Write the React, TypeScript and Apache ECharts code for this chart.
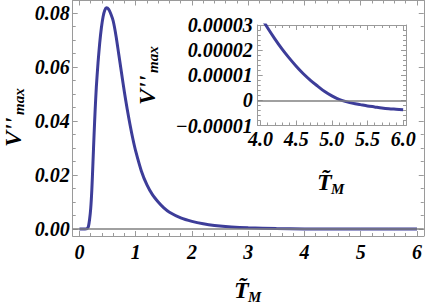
import React, { useEffect, useRef } from "react";
import * as echarts from "echarts";

// ---- data ----
const mainX = [0, 0.1, 0.12, 0.14, 0.16, 0.18, 0.2, 0.22, 0.24, 0.26, 0.28, 0.3, 0.33, 0.36, 0.39, 0.42, 0.45, 0.48, 0.52, 0.56, 0.6, 0.65, 0.7, 0.75, 0.8, 0.85, 0.9, 0.95, 1.0, 1.1, 1.2, 1.3, 1.4, 1.5, 1.6, 1.8, 2.0, 2.2, 2.4, 2.7, 3.0, 3.5, 4.0, 4.5, 5.0, 5.5, 6.0];
const mainY = [0, 0, 0.00003, 0.0002, 0.001, 0.0035, 0.0075, 0.0145, 0.0245, 0.035, 0.0445, 0.0525, 0.0615, 0.0688, 0.0745, 0.0786, 0.081, 0.0819, 0.0813, 0.0795, 0.077, 0.0715, 0.0645, 0.0575, 0.0505, 0.0442, 0.0385, 0.0333, 0.0288, 0.0215, 0.0163, 0.0126, 0.01, 0.0078, 0.0062, 0.0041, 0.0028, 0.0019, 0.0013, 0.00075, 0.00043, 0.00016, 0.0000335, 0.0000136, 0.0000018, -0.0000022, -0.0000037];

const insetX = [4.0, 4.1, 4.2, 4.3, 4.4, 4.5, 4.6, 4.7, 4.8, 4.9, 5.0, 5.1, 5.2, 5.3, 5.4, 5.5, 5.6, 5.7, 5.8, 5.9, 6.0];
const insetY = [0.0000335, 0.0000288, 0.0000245, 0.0000205, 0.0000169, 0.0000136, 0.0000106, 0.000008, 0.0000057, 0.0000035, 0.0000018, 0.0000004, -0.0000005, -0.0000012, -0.0000017, -0.0000022, -0.0000026, -0.000003, -0.0000033, -0.0000035, -0.0000037];

const mainXTicks = [0, 1, 2, 3, 4, 5, 6];
const mainXLabels = ["0", "1", "2", "3", "4", "5", "6"];
const mainYTicks = [0, 0.02, 0.04, 0.06, 0.08];
const mainYLabels = ["0.00", "0.02", "0.04", "0.06", "0.08"];
const insetXTicks = [4, 4.5, 5, 5.5, 6];
const insetXLabels = ["4.0", "4.5", "5.0", "5.5", "6.0"];
const insetYTicks = [-0.00001, 0, 0.00001, 0.00002, 0.00003];
const insetYLabels = ["\u22120.00001", "0", "0.00001", "0.00002", "0.00003"];

// ---- styling ----
const FONT = '"Liberation Serif", "Times New Roman", serif';
const FRAME = "#9a9a9a";
const CURVE = "#3d3d99";

function minorTicks(majors: number[], sub: number, min: number, max: number) {
  const step = (majors[1] - majors[0]) / sub;
  const out: number[] = [];
  const n0 = Math.ceil((min - majors[0]) / step);
  const n1 = Math.floor((max - majors[0]) / step);
  for (let i = n0; i <= n1; i++) {
    const v = +(majors[0] + i * step).toPrecision(12);
    if (!majors.some((m) => Math.abs(m - v) < step * 1e-3)) out.push(v);
  }
  return out;
}

function fmt(majors: number[], labels: string[]) {
  const step = Math.abs(majors[1] - majors[0]);
  return (v: number) => {
    const i = majors.findIndex((m) => Math.abs(m - v) < step * 1e-3);
    return i >= 0 ? labels[i] : "";
  };
}

const labelStyle = {
  color: "#000",
  fontFamily: FONT,
  fontWeight: "bold" as const,
  fontStyle: "italic" as const,
  fontSize: 20,
};

function axes(dim: "x" | "y", grid: number, min: number, max: number, majors: number[], sub: number, labels: string[], margin: number) {
  const minors = minorTicks(majors, sub, min, max);
  const sides = dim === "x" ? ["bottom", "top"] : ["left", "right"];
  const base = {
    type: "value",
    gridIndex: grid,
    min,
    max,
    splitLine: { show: false },
  };
  const res: any[] = [];
  sides.forEach((pos, si) => {
    res.push({
      ...base,
      position: pos,
      axisLine: { show: true, onZero: false, lineStyle: { color: FRAME, width: 1 } },
      axisTick: { show: true, inside: true, length: 5, customValues: majors, lineStyle: { color: FRAME, width: 1 } },
      axisLabel: si === 0
        ? { show: true, customValues: majors, formatter: fmt(majors, labels), margin, ...labelStyle }
        : { show: false },
    });
  });
  sides.forEach((pos) => {
    res.push({
      ...base,
      position: pos,
      axisLine: { show: false, onZero: false },
      axisTick: { show: true, inside: true, length: 3, customValues: minors, lineStyle: { color: FRAME, width: 1 } },
      axisLabel: { show: false },
    });
  });
  return res;
}

const MAIN_X = [-0.12, 6.12];
const MAIN_Y = [-0.0026, 0.0846];
const INSET_X = [3.96, 6.04];
const INSET_Y = [-0.00001, 0.00003];

function titleT(x: number, y: number) {
  return [
    { type: "text", x, y: y - 8.2, style: { text: "T\u0303", font: `italic bold 24px ${FONT}`, fill: "#000", textAlign: "left", textVerticalAlign: "middle" } },
    { type: "text", x: x + 14, y: y + 4 - 5.1, style: { text: "M", font: `italic bold 15px ${FONT}`, fill: "#000", textAlign: "left", textVerticalAlign: "middle" } },
  ];
}

function titleV(x: number, y: number) {
  return {
    type: "group",
    x,
    y,
    rotation: Math.PI / 2,
    children: [
      { type: "text", x: 0, y: -8.2, style: { text: "V''", font: `italic bold 24px ${FONT}`, fill: "#000", textAlign: "left", textVerticalAlign: "middle" } },
      { type: "text", x: 32, y: 3 - 5.1, style: { text: "max", font: `italic bold 15px ${FONT}`, fill: "#000", textAlign: "left", textVerticalAlign: "middle" } },
    ],
  };
}

export default function App() {
  const ref = useRef<HTMLDivElement>(null);
  useEffect(() => {
    if (!ref.current) return;
    const chart = echarts.init(ref.current, null, { renderer: "svg" });
    const zeroLine = {
      silent: true,
      symbol: "none",
      label: { show: false },
      lineStyle: { color: "#808080", width: 1.5, type: "solid" },
      data: [{ yAxis: 0 }],
    };
    const option: any = {
      animation: false,
      backgroundColor: "#fff",
      grid: [
        { left: 72.7, top: 0.5, right: 1, bottom: 69, show: false },
        { left: 257.7, top: 25, right: 19, bottom: 179.5, show: true, backgroundColor: "#fff", borderWidth: 0 },
      ],
      xAxis: [
        ...axes("x", 0, MAIN_X[0], MAIN_X[1], mainXTicks, 5, mainXLabels, 6),
        ...axes("x", 1, INSET_X[0], INSET_X[1], insetXTicks, 5, insetXLabels, 3.5),
      ],
      yAxis: [
        ...axes("y", 0, MAIN_Y[0], MAIN_Y[1], mainYTicks, 4, mainYLabels, 3),
        ...axes("y", 1, INSET_Y[0], INSET_Y[1], insetYTicks, 5, insetYLabels, 5),
      ],
      series: [
        {
          type: "line",
          xAxisIndex: 0,
          yAxisIndex: 0,
          data: mainX.map((x, i) => [x, mainY[i]]),
          showSymbol: false,
          smooth: 0.3,
          lineStyle: { color: CURVE, width: 3 },
          markLine: zeroLine,
          z: 3,
        },
        {
          type: "line",
          xAxisIndex: 4,
          yAxisIndex: 4,
          data: insetX.map((x, i) => [x, insetY[i]]),
          showSymbol: false,
          smooth: 0.3,
          clip: true,
          lineStyle: { color: CURVE, width: 3 },
          markLine: zeroLine,
          z: 3,
        },
      ],
      graphic: [
        ...titleT(234, 298),
        ...titleT(317, 190),
        titleV(21.5, 147),
        titleV(155.5, 105),
      ],
    };
    chart.setOption(option);
    return () => chart.dispose();
  }, []);
  return (
    <div
      ref={ref}
      style={{ position: "fixed", left: 0, top: 0, width: 425, height: 305, background: "#fff" }}
    />
  );
}
